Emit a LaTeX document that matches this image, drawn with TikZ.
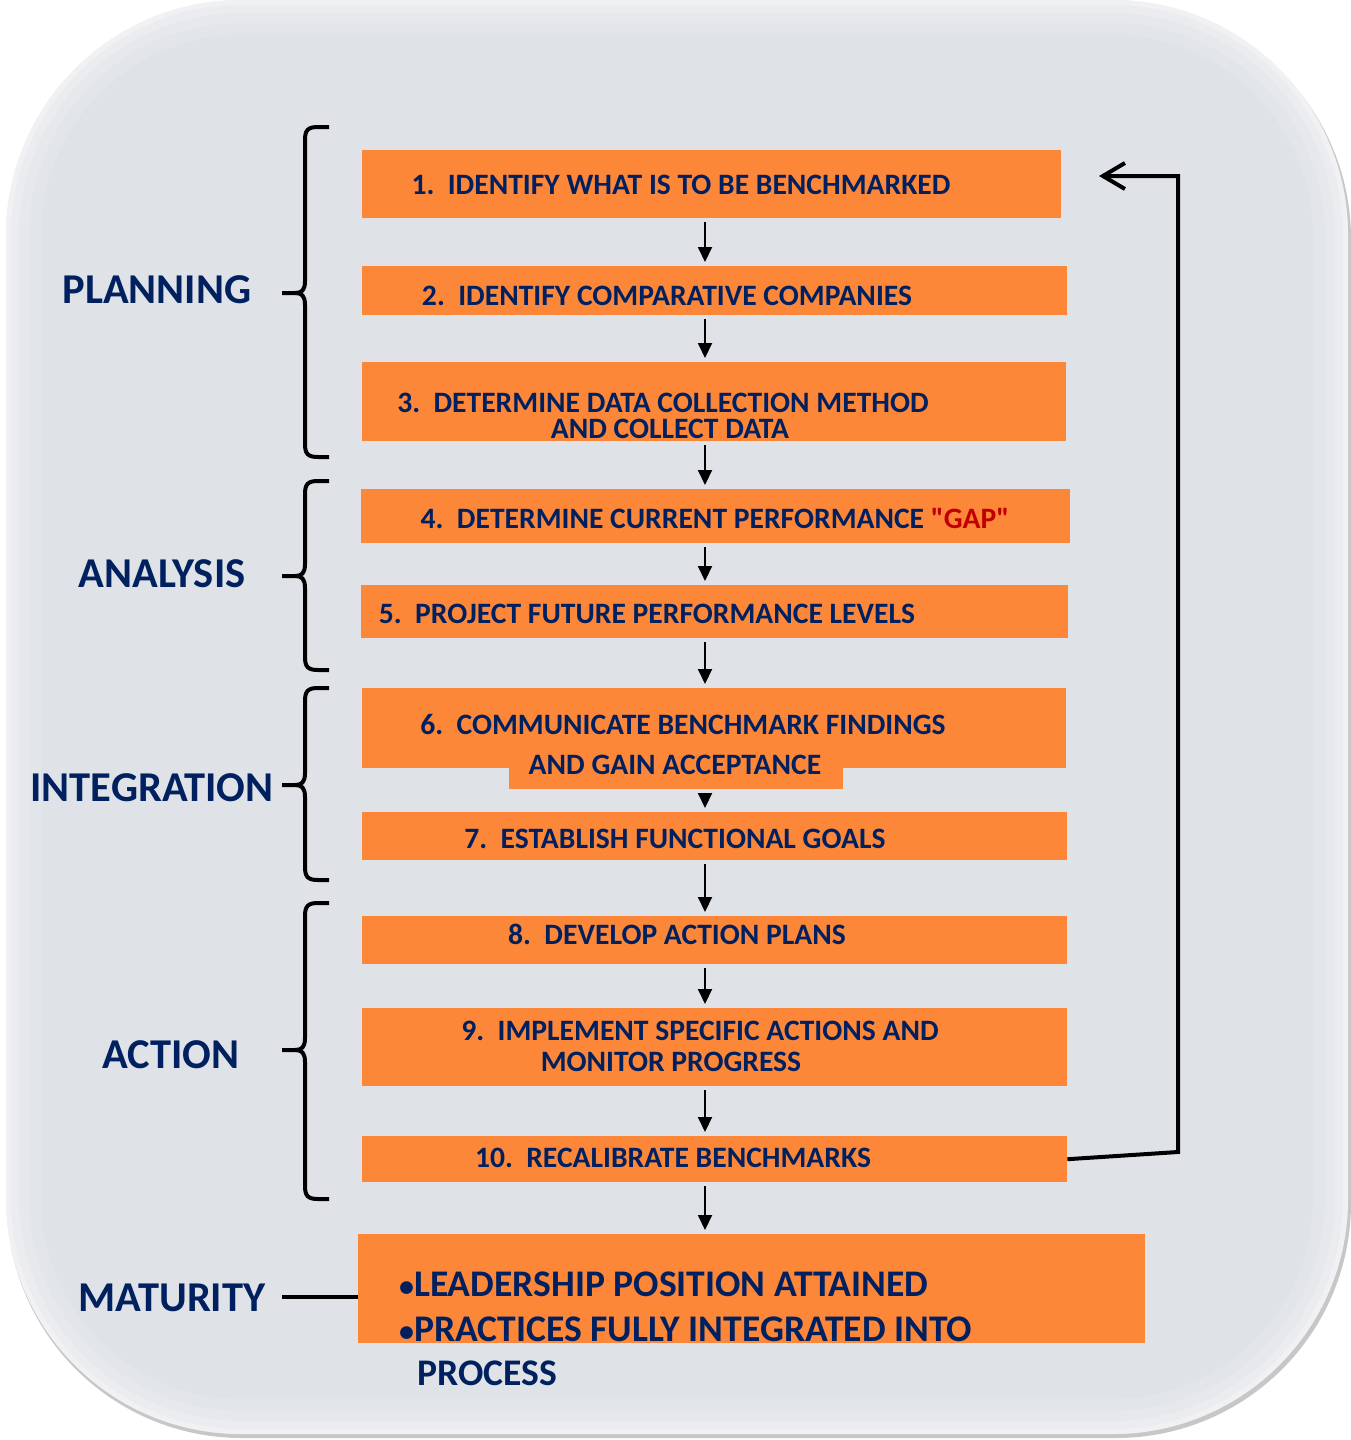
\documentclass[tikz,border=0pt]{standalone}
\usepackage{fontspec}
\setmainfont{Carlito}
\newfontfamily\gapfont{Carlito}
\usetikzlibrary{arrows.meta}
\definecolor{stepfill}{RGB}{253,135,56}
\definecolor{navy}{RGB}{0,32,96}
\definecolor{gapred}{RGB}{192,0,0}
\definecolor{panel}{RGB}{223,227,231}
\tikzset{
    stepbox/.style={fill=stepfill, draw=none, inner sep=0pt, anchor=north west},
    steptext/.style={text=navy, inner sep=0pt, anchor=base, font=\fontsize{29.6}{30}\selectfont\bfseries},
    phase/.style={text=navy, inner sep=0pt, anchor=base, font=\fontsize{42.5}{44}\selectfont\bfseries},
    bullettext/.style={text=navy, inner sep=0pt, anchor=base west, font=\fontsize{37.6}{40}\selectfont\bfseries},
    flow/.style={line width=2pt, -{Triangle[length=15pt,width=14pt]}, shorten <=4pt, shorten >=4pt},
    brace/.style={line width=4pt, line join=round},
    feedback/.style={line width=4pt, -{Straight Barb[length=22pt,width=26pt,line width=4pt]}},
}
\begin{document}
\begin{tikzpicture}[x=1pt, y=-1pt]
    \useasboundingbox (0,0) rectangle (1351,1440);

    \fill[black!22, rounded corners=235] (7,4) rectangle (1351,1438);
    \fill[panel, rounded corners=235] (6,0) rectangle (1348,1434);
    \begin{scope}
      \clip[rounded corners=235] (6,0) rectangle (1348,1434);
      \foreach \w/\o in {70/0.10, 46/0.14, 26/0.2, 10/0.3}
        \draw[white, opacity=\o, line width=\w, rounded corners=235] (6,0) rectangle (1348,1434);
    \end{scope}

    \coordinate (ax) at (705,0);
    \coordinate (brx) at (282,0);

    \node[stepbox, minimum width=699, minimum height=68] (b1) at (362,150) {};
    \node[stepbox, minimum width=705, minimum height=49] (b2) at (362,266) {};
    \node[stepbox, minimum width=704, minimum height=79] (b3) at (362,362) {};
    \node[stepbox, minimum width=709, minimum height=54] (b4) at (361,489) {};
    \node[stepbox, minimum width=707, minimum height=53] (b5) at (361,585) {};
    \node[stepbox, minimum width=704, minimum height=80] (b6) at (362,688) {};
    \node[stepbox, minimum width=334, minimum height=22] (b6tab) at (509,767) {};
    \node[stepbox, minimum width=705, minimum height=48] (b7) at (362,812) {};
    \node[stepbox, minimum width=705, minimum height=48] (b8) at (362,916) {};
    \node[stepbox, minimum width=705, minimum height=78] (b9) at (362,1008) {};
    \node[stepbox, minimum width=705, minimum height=46] (b10) at (362,1136) {};
    \node[stepbox, minimum width=787, minimum height=109] (b11) at (358,1234) {};

    \node[steptext] (t1) at (681,194) {1.\ \ IDENTIFY WHAT IS TO BE BENCHMARKED};
    \node[steptext] (t2) at (667,305) {2.\ \ IDENTIFY COMPARATIVE COMPANIES};
    \node[steptext] (t3a) at (663,412) {3.\ \ DETERMINE DATA COLLECTION METHOD};
    \node[steptext] (t3b) at (670,438) {AND COLLECT DATA};
    \node[steptext] (t4) at (715,528) {4.\ \ DETERMINE CURRENT PERFORMANCE {\gapfont\bfseries\color{gapred}"GAP"}};
    \node[steptext] (t5) at (647,623) {5.\ \ PROJECT FUTURE PERFORMANCE LEVELS};
    \node[steptext] (t6a) at (683,734) {6.\ \ COMMUNICATE BENCHMARK FINDINGS};
    \node[steptext] (t6b) at (675,774) {AND GAIN ACCEPTANCE};
    \node[steptext] (t7) at (675,848) {7.\ \ ESTABLISH FUNCTIONAL GOALS};
    \node[steptext] (t8) at (677,944) {8.\ \ DEVELOP ACTION PLANS};
    \node[steptext] (t9a) at (700,1040) {9.\ \ IMPLEMENT SPECIFIC ACTIONS AND};
    \node[steptext] (t9b) at (671,1071) {MONITOR PROGRESS};
    \node[steptext] (t10) at (673,1167) {10.\ \ RECALIBRATE BENCHMARKS};

    \node[bullettext] (m1) at (399,1296) {{\fontsize{30}{30}\selectfont\textbullet}LEADERSHIP POSITION ATTAINED};
    \node[bullettext] (m2) at (399,1341) {{\fontsize{30}{30}\selectfont\textbullet}PRACTICES FULLY INTEGRATED INTO};
    \node[bullettext] (m3) at (417,1385) {PROCESS};

    \node[phase] (planning) at (157,303) {PLANNING};
    \node[phase] (analysis) at (162,587) {ANALYSIS};
    \node[phase] (integration) at (152,801) {INTEGRATION};
    \node[phase] (action) at (171,1068) {ACTION};
    \node[phase] (maturity) at (172,1311) {MATURITY};

    \foreach \a/\b in {b1/b2, b2/b3, b3/b4, b4/b5, b5/b6, b6tab/b7, b7/b8, b8/b9, b9/b10, b10/b11}
      \draw[flow] (\a.south -| ax) -- (\b.north -| ax);

    \foreach \top/\mid/\bot in {127/293/457, 481/576/670, 688/785/880, 903/1050/1199}
      \draw[brace] (329,\top) -- (318,\top) .. controls (308,\top) and (305,\top+3) .. (305,\top+13)
        -- (305,\mid-12) .. controls (305,\mid-3) and (302,\mid) .. (295,\mid) -- (282,\mid)
        (295,\mid) .. controls (302,\mid) and (305,\mid+3) .. (305,\mid+12)
        -- (305,\bot-13) .. controls (305,\bot-3) and (308,\bot) .. (318,\bot) -- (329,\bot);

    \draw[line width=4pt] (maturity.east -| brx) -- (maturity.east -| b11.west);

    \coordinate (fbend) at (1099,176);
    \draw[feedback, line join=miter] (b10.east) -- (1178,1152) -- (1178,176) -- (fbend);
\end{tikzpicture}
\end{document}
